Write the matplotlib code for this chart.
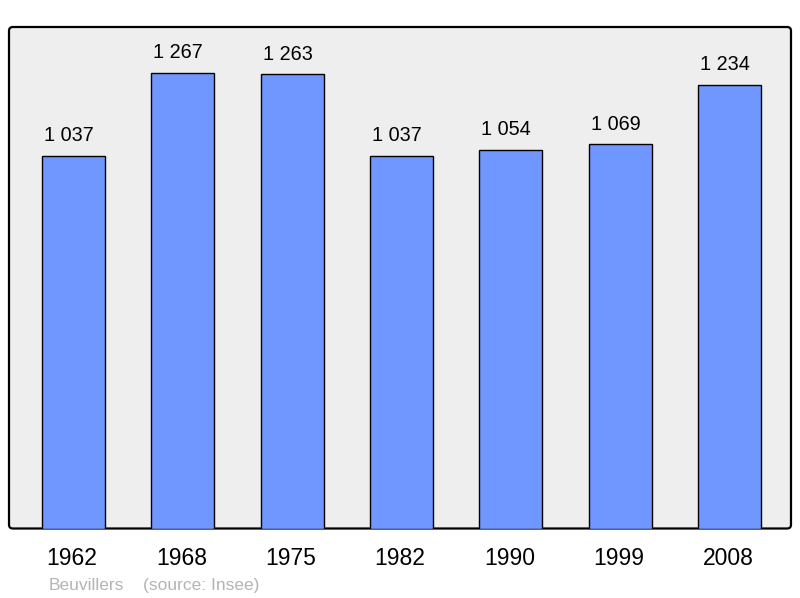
import matplotlib.pyplot as plt
import matplotlib.transforms as mtransforms
from matplotlib.patches import FancyBboxPatch

years = ["1962", "1968", "1975", "1982", "1990", "1999", "2008"]
population = [1037, 1267, 1263, 1037, 1054, 1069, 1234]
commune = "Beuvillers"
source = "(source: Insee)"

plt.rcParams['font.family'] = ['Liberation Sans', 'DejaVu Sans']

fig = plt.figure(figsize=(8, 5.98), dpi=100)
ax = fig.add_axes([9 / 800, 1 - 528.5 / 598, 782 / 800, 501.5 / 598])

# background frame with slightly rounded corners
ax.patch.set_visible(False)
for s in ax.spines.values():
	s.set_visible(False)
frame = FancyBboxPatch((0, 0), 1, 1, boxstyle="round,pad=0,rounding_size=0.005",
					   mutation_aspect=782 / 501.5, transform=ax.transAxes,
					   facecolor="#eeeeee", edgecolor="black", linewidth=1.6,
					   clip_on=False, zorder=0)
ax.add_patch(frame)

x = list(range(len(years)))
ax.bar(x, population, width=0.576, color="#7097ff", edgecolor="black",
	   linewidth=1.0, zorder=2)

for xi, val in zip(x, population):
	label = "{:,}".format(val).replace(",", " ")
	ax.annotate(label, (xi, val), xytext=(-3.3, 10.5), textcoords="offset points",
				ha="center", va="baseline", fontsize=14.3, color="black")

ax.set_xlim(-0.59, 6.563)
ax.set_ylim(0, 1395)
ax.set_yticks([])
ax.set_xticks(x)
ax.set_xticklabels(years, fontsize=16.5)
ax.tick_params(axis="x", length=0, pad=13.5)
shift = mtransforms.ScaledTranslation(-1.5 / 100, 0, fig.dpi_scale_trans)
for lbl in ax.get_xticklabels():
	lbl.set_transform(lbl.get_transform() + shift)

fig.text(49 / 800, 1 - 590 / 598, commune, fontsize=12.5, color="#b4b4b4",
		 ha="left", va="baseline")
fig.text(143 / 800, 1 - 590 / 598, source, fontsize=12.5, color="#b4b4b4",
		 ha="left", va="baseline")

fig.savefig("out.png", dpi=100)
